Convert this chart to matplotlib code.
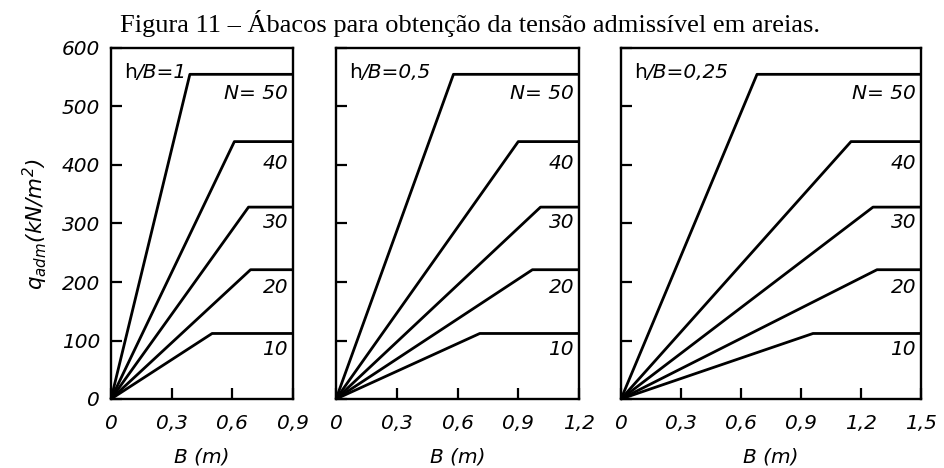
import matplotlib
matplotlib.use('Agg')
import matplotlib.pyplot as plt

# curves: N values and admissible stress plateau (kN/m2)
n_spt = [50, 40, 30, 20, 10]
q_plateau = [555, 440, 328, 221, 112]

# width B (m) where each curve reaches its plateau, per h/B
b_break = {
    '1': [0.39, 0.61, 0.68, 0.69, 0.50],
    '0,5': [0.58, 0.90, 1.01, 0.97, 0.71],
    '0,25': [0.68, 1.15, 1.26, 1.28, 0.96],
}
hb_values = ['1', '0,5', '0,25']
b_max = [0.9, 1.2, 1.5]

# curve labels and their height on the chart
n_labels = ['N= 50', '40', '30', '20', '10']
n_label_q = [523, 403, 301, 191, 84]

y_ticks = [0, 100, 200, 300, 400, 500, 600]
x_ticks = [0, 0.3, 0.6, 0.9, 1.2, 1.5]

title = 'Figura 11 – Ábacos para obtenção da tensão admissível em areias.'

plt.rcParams['mathtext.fontset'] = 'custom'
plt.rcParams['mathtext.it'] = 'DejaVu Sans:italic'
plt.rcParams['mathtext.rm'] = 'DejaVu Sans:italic'

sans = {'family': 'DejaVu Sans', 'style': 'italic', 'size': 14.5}

W, H = 944, 468
fig = plt.figure(figsize=(W / 100, H / 100), dpi=100)

# panel frames in pixels: left, right, top, bottom
frames = [(111, 293, 48, 399), (336, 579, 48, 399), (621, 921, 48, 399)]

for i, hb in enumerate(hb_values):
    l, r, t, b = frames[i]
    ax = fig.add_axes([l / W, 1 - b / H, (r - l) / W, (b - t) / H])
    xmax = b_max[i]

    for q, bb in zip(q_plateau, b_break[hb]):
        ax.plot([0, bb, xmax], [0, q, q], color='black', lw=2.0,
                solid_capstyle='butt', clip_on=False)

    for txt, yq in zip(n_labels, n_label_q):
        ax.annotate(txt, xy=(xmax, yq), xytext=(-5, 0), textcoords='offset pixels',
                    ha='right', va='center', **sans)

    # "h" upright, "/B=..." italic
    h_txt = ax.annotate('h', xy=(0, 0.93), xycoords='axes fraction',
                        xytext=(13, 0), textcoords='offset pixels',
                        ha='left', va='center', family='DejaVu Sans', size=14.5)
    ax.annotate('/B=' + hb, xy=(1, 0.5), xycoords=h_txt, ha='left', va='center', **sans)

    ax.set_xlim(0, xmax)
    ax.set_ylim(0, 600)
    xt = [x for x in x_ticks if x <= xmax + 1e-9]
    ax.set_xticks(xt)
    ax.set_xticklabels(['0' if x == 0 else ('%.1f' % x).replace('.', ',') for x in xt], **sans)
    ax.set_yticks(y_ticks)
    if i == 0:
        ax.set_yticklabels([str(v) for v in y_ticks], **sans)
        ax.set_ylabel(r'$q_{adm}(kN/m^2)$', size=15.5, va='center')
        ax.yaxis.set_label_coords((35 - l) / (r - l), 0.5)
    else:
        ax.set_yticklabels([])
    ax.tick_params(direction='in', length=8, width=1.6, color='black')
    ax.tick_params(axis='x', pad=11)
    ax.tick_params(axis='y', pad=8)
    ax.tick_params(top=False, right=False)

    ax.set_xlabel('B (m)', va='center', **sans)
    ax.xaxis.set_label_coords(0.5, (b - 457) / (b - t))

    for sp in ax.spines.values():
        sp.set_linewidth(1.7)

fig.text(470 / W, 1 - 32 / H, title, ha='center', va='baseline',
         family='Liberation Serif', size=19, color='black')

fig.savefig('out.png', dpi=100)
